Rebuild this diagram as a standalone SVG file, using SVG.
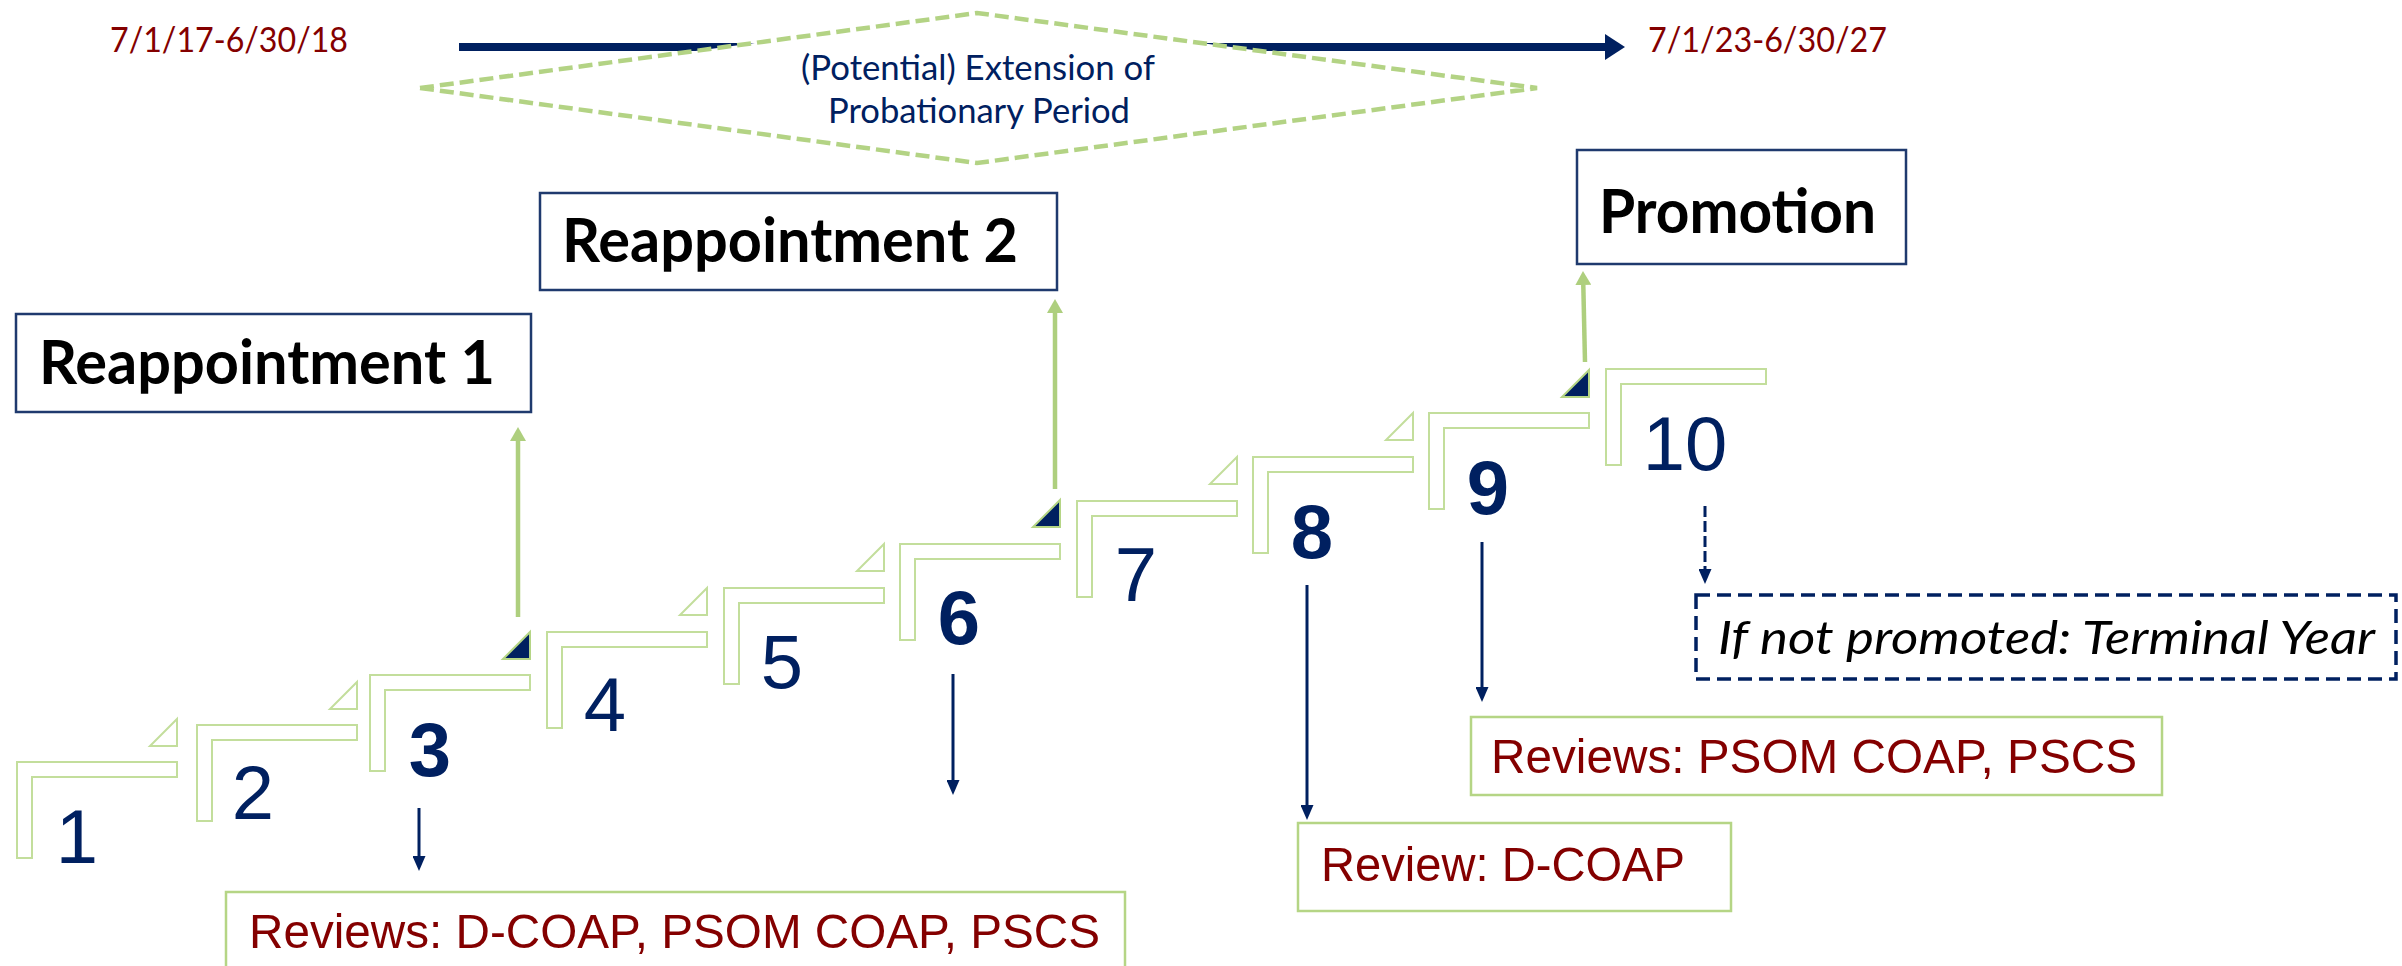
<svg xmlns="http://www.w3.org/2000/svg" width="2402" height="966" viewBox="0 0 2402 966">
  <style>
    .step { fill: #ffffff; stroke: #C3DE9C; stroke-width: 2; }
    .tri-open { fill: #ffffff; stroke: #C3DE9C; stroke-width: 2; }
    .tri-fill { fill: #002060; stroke: #B5D585; stroke-width: 2; }
    .num { font-family: "Liberation Sans", Arial, sans-serif; font-size: 76px; fill: #002060; text-anchor: middle; }
    .num-b { font-weight: bold; }
    .date { font-family: Lato, "Liberation Sans", sans-serif; font-size: 34px; fill: #840000; }
    .title-box { fill: #ffffff; stroke: #1F3A6E; stroke-width: 2.5; }
    .title { font-family: Lato, "Liberation Sans", sans-serif; font-weight: bold; font-size: 62px; fill: #000000; }
    .review-box { fill: #ffffff; stroke: #B5D585; stroke-width: 2.5; }
    .review { font-family: "Liberation Sans", Arial, sans-serif; font-size: 49px; fill: #840000; }
    .green-link { stroke: #AECF7E; stroke-width: 4.5; fill: none; }
    .navy-link { stroke: #002060; stroke-width: 3; fill: none; }
  </style>
  <defs>
    <marker id="head-green" markerUnits="userSpaceOnUse" markerWidth="14" markerHeight="16" refX="0" refY="8" orient="auto">
      <path d="M0,0 L14,8 L0,16 Z" fill="#AECF7E"/>
    </marker>
    <marker id="head-navy" markerUnits="userSpaceOnUse" markerWidth="15" markerHeight="13" refX="0" refY="6.5" orient="auto">
      <path d="M0,0 L15,6.5 L0,13 Z" fill="#002060"/>
    </marker>
    <marker id="head-timeline" markerUnits="userSpaceOnUse" markerWidth="20" markerHeight="26" refX="0" refY="13" orient="auto">
      <path d="M0,0 L20,13 L0,26 Z" fill="#002060"/>
    </marker>
  </defs>

  <!-- timeline -->
  <g id="timeline">
    <text class="date" x="110" y="52" textLength="238" lengthAdjust="spacingAndGlyphs">7/1/17-6/30/18</text>
    <line x1="459" y1="47" x2="1605" y2="47" stroke="#002060" stroke-width="8" marker-end="url(#head-timeline)"/>
    <text class="date" x="1648" y="52" textLength="239" lengthAdjust="spacingAndGlyphs">7/1/23-6/30/27</text>
  </g>

  <!-- extension diamond -->
  <g id="extension">
    <polygon points="420,88 977,13 1537,88 977,163" fill="#ffffff" stroke="#B3D384" stroke-width="4.5" stroke-dasharray="14 6"/>
    <text x="978" y="80" font-family="Lato, 'Liberation Sans', sans-serif" font-size="35" fill="#002060" text-anchor="middle" textLength="354" lengthAdjust="spacingAndGlyphs">(Potential) Extension of</text>
    <text x="979" y="123" font-family="Lato, 'Liberation Sans', sans-serif" font-size="35" fill="#002060" text-anchor="middle" textLength="302" lengthAdjust="spacingAndGlyphs">Probationary Period</text>
  </g>

  <!-- milestone boxes -->
  <g id="reappointment-1">
    <rect class="title-box" x="16" y="314" width="515" height="98"/>
    <text class="title" x="39" y="384" textLength="456" lengthAdjust="spacingAndGlyphs">Reappointment 1</text>
  </g>
  <g id="reappointment-2">
    <rect class="title-box" x="540" y="193" width="517" height="97"/>
    <text class="title" x="562" y="262" textLength="456" lengthAdjust="spacingAndGlyphs">Reappointment 2</text>
  </g>
  <g id="promotion">
    <rect class="title-box" x="1577" y="150" width="329" height="114"/>
    <text class="title" x="1599" y="233" textLength="277" lengthAdjust="spacingAndGlyphs">Promotion</text>
  </g>

  <!-- year steps: L-shaped stair treads with a corner marker -->
  <g id="step-1">
    <path class="step" d="M17,762 H177 V777 H32 V858 H17 Z"/>
    <polygon class="tri-open" points="150,746 177,746 177,719"/>
    <text class="num" x="77" y="863">1</text>
  </g>
  <g id="step-2">
    <path class="step" d="M197,725 H357 V740 H212 V821 H197 Z"/>
    <polygon class="tri-open" points="330,709 357,709 357,682"/>
    <text class="num" x="253" y="819">2</text>
  </g>
  <g id="step-3">
    <path class="step" d="M370,675 H530 V690 H385 V771 H370 Z"/>
    <polygon class="tri-fill" points="503,659 530,659 530,632"/>
    <text class="num num-b" x="430" y="776">3</text>
  </g>
  <g id="step-4">
    <path class="step" d="M547,632 H707 V647 H562 V728 H547 Z"/>
    <polygon class="tri-open" points="680,615 707,615 707,588"/>
    <text class="num" x="605" y="731">4</text>
  </g>
  <g id="step-5">
    <path class="step" d="M724,588 H884 V603 H739 V684 H724 Z"/>
    <polygon class="tri-open" points="857,571 884,571 884,544"/>
    <text class="num" x="782" y="688">5</text>
  </g>
  <g id="step-6">
    <path class="step" d="M900,544 H1060 V559 H915 V640 H900 Z"/>
    <polygon class="tri-fill" points="1033,527 1060,527 1060,500"/>
    <text class="num num-b" x="959" y="644">6</text>
  </g>
  <g id="step-7">
    <path class="step" d="M1077,501 H1237 V516 H1092 V597 H1077 Z"/>
    <polygon class="tri-open" points="1210,484 1237,484 1237,457"/>
    <text class="num" x="1136" y="601">7</text>
  </g>
  <g id="step-8">
    <path class="step" d="M1253,457 H1413 V472 H1268 V553 H1253 Z"/>
    <polygon class="tri-open" points="1386,440 1413,440 1413,413"/>
    <text class="num num-b" x="1312" y="558">8</text>
  </g>
  <g id="step-9">
    <path class="step" d="M1429,413 H1589 V428 H1444 V509 H1429 Z"/>
    <polygon class="tri-fill" points="1562,397 1589,397 1589,370"/>
    <text class="num num-b" x="1488" y="514">9</text>
  </g>
  <g id="step-10">
    <path class="step" d="M1606,369 H1766 V384 H1621 V465 H1606 Z"/>
    <text class="num" x="1685" y="470">10</text>
  </g>

  <!-- review boxes -->
  <g id="review-year-3">
    <rect class="review-box" x="226" y="892" width="899" height="90"/>
    <text class="review" x="249" y="948" textLength="851" lengthAdjust="spacingAndGlyphs">Reviews: D-COAP, PSOM COAP, PSCS</text>
  </g>
  <g id="review-year-8">
    <rect class="review-box" x="1298" y="823" width="433" height="88"/>
    <text class="review" x="1321" y="881" textLength="364" lengthAdjust="spacingAndGlyphs">Review: D-COAP</text>
  </g>
  <g id="review-year-9">
    <rect class="review-box" x="1471" y="717" width="691" height="78"/>
    <text class="review" x="1491" y="773" textLength="646" lengthAdjust="spacingAndGlyphs">Reviews: PSOM COAP, PSCS</text>
  </g>
  <g id="terminal-year">
    <rect x="1696" y="595" width="700" height="84" fill="#ffffff" stroke="#002060" stroke-width="3.5" stroke-dasharray="14 7"/>
    <text x="1718" y="654" font-family="Lato, 'Liberation Sans', sans-serif" font-style="italic" font-size="46" fill="#000000" textLength="657" lengthAdjust="spacingAndGlyphs">If not promoted: Terminal Year</text>
  </g>

  <!-- connectors -->
  <g id="connectors">
    <line class="green-link" x1="518" y1="617" x2="518" y2="441" marker-end="url(#head-green)"/>
    <line class="green-link" x1="1055" y1="489" x2="1055" y2="313" marker-end="url(#head-green)"/>
    <line class="green-link" x1="1585" y1="362" x2="1583.3" y2="285" marker-end="url(#head-green)"/>
    <line class="navy-link" x1="419" y1="808" x2="419" y2="856" marker-end="url(#head-navy)"/>
    <line class="navy-link" x1="953" y1="674" x2="953" y2="780" marker-end="url(#head-navy)"/>
    <line class="navy-link" x1="1307" y1="585" x2="1307" y2="805" marker-end="url(#head-navy)"/>
    <line class="navy-link" x1="1482" y1="542" x2="1482" y2="687" marker-end="url(#head-navy)"/>
    <line class="navy-link" x1="1705" y1="506" x2="1705" y2="569" stroke-dasharray="11 4" marker-end="url(#head-navy)"/>
  </g>
</svg>
